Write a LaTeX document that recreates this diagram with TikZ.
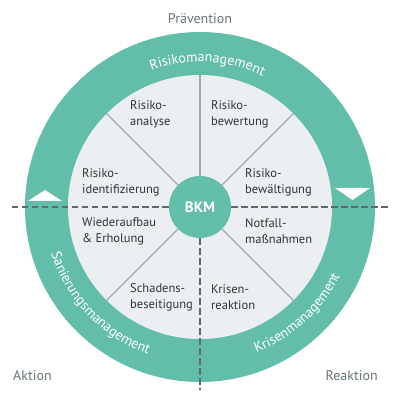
\documentclass[tikz,border=0pt]{standalone}
\usepackage{fontspec}
\setmainfont{PT Sans}
\usetikzlibrary{decorations.text}

\definecolor{bkmteal}{HTML}{62BEA8}
\definecolor{diskgray}{HTML}{ECEFF1}
\definecolor{spokegray}{HTML}{A2A9AC}
\definecolor{axisgray}{HTML}{5E696F}
\definecolor{fieldtext}{HTML}{2E3538}
\definecolor{phasetext}{HTML}{67747B}

\begin{document}
\begin{tikzpicture}[x=1pt, y=1pt,
        field/.style = {anchor=west, align=left, inner sep=0pt, text=fieldtext,
                        font=\fontsize{12.5}{16}\selectfont},
        phase/.style = {inner sep=0pt, text=phasetext, font=\fontsize{14}{16}\selectfont},
        spoke/.style = {spokegray, line width=1.3pt},
        axis/.style = {axisgray, line width=1.8pt, dash pattern=on 6.5pt off 3.5pt},
        ringlabel/.style = {decorate, decoration={text along path, text align=center,
                        text={|\fontsize{14}{14}\selectfont\color{white}|#1}}}]
        \useasboundingbox (-200,-194) rectangle (200,207);
        % Ring
        \fill[bkmteal] (0,0) circle[radius=175];
        \fill[diskgray] (0,0) circle[radius=132];
        % BKM
        \node[circle, fill=bkmteal, minimum size=62pt, inner sep=0pt, text=white,
              font=\fontsize{15}{15}\selectfont\bfseries] (bkm) at (0,0) {BKM};
        % Spokes
        \foreach \a in {45,90,135,225,315}
            \coordinate (rim\a) at (\a:132);
        \foreach \a in {45,90,135,225,315}
            \draw[spoke] (bkm.\a) -- (rim\a);
        % Axes
        \coordinate (axleft) at (-188,0);
        \coordinate (axright) at (188,0);
        \coordinate (axdown) at (0,-183);
        \draw[axis] (axleft) -- (bkm.west);
        \draw[axis] (bkm.east) -- (axright);
        \draw[axis] (bkm.south) -- (axdown);
        % Arrow marks in the ring
        \fill[white] (-172,6) -- (-138,6) -- (-155,17) -- cycle;
        \fill[white] (135,19) -- (170,19) -- (152.5,7) -- cycle;
        % Ring labels
        \path[ringlabel=Risikomanagement] (150:145) arc[start angle=150, end angle=24, radius=145];
        \path[ringlabel=Sanierungsmanagement] (170:156) arc[start angle=170, end angle=278, radius=156];
        \path[ringlabel=Krisenmanagement] (258:156) arc[start angle=258, end angle=367, radius=156];
        % Fields
        \node[field] (analyse) at (-70,93) {Risiko-\\analyse};
        \node[field] (bewertung) at (11,93) {Risiko-\\bewertung};
        \node[field] (identifizierung) at (-118,25) {Risiko-\\identifizierung};
        \node[field] (bewaeltigung) at (45,25) {Risiko-\\bewältigung};
        \node[field] (wiederaufbau) at (-118,-24) {Wiederaufbau\\\& Erholung};
        \node[field] (notfall) at (45,-24) {Notfall-\\maßnahmen};
        \node[field] (schaden) at (-70,-90) {Schadens-\\beseitigung};
        \node[field] (krise) at (11,-90) {Krisen-\\reaktion};
        % Phases
        \node[phase] (praevention) at (0,188) {Prävention};
        \node[phase, anchor=west] (aktion) at (-187,-169) {Aktion};
        \node[phase, anchor=east] (reaktion) at (178,-169) {Reaktion};
\end{tikzpicture}
\end{document}
